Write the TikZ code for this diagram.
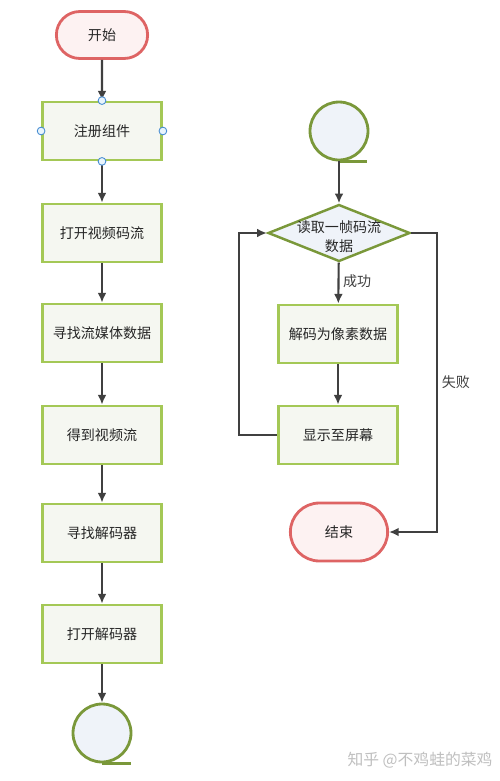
\documentclass[tikz,border=0pt]{standalone}
\usepackage{fontspec}
\setmainfont{Noto Sans CJK SC}
\usetikzlibrary{shapes.geometric,shapes.misc,arrows.meta}
\tikzset{>={Latex[length=5.5pt,width=5pt]}}
\definecolor{termred}{RGB}{222,100,100}
\definecolor{termfill}{RGB}{253,242,242}
\definecolor{boxgreen}{RGB}{164,200,86}
\definecolor{boxfill}{RGB}{245,247,241}
\definecolor{olivegreen}{RGB}{122,152,58}
\definecolor{loopfill}{RGB}{239,243,249}
\definecolor{handleblue}{RGB}{70,140,210}
\definecolor{handlefill}{RGB}{232,244,252}
\colorlet{linegray}{black!75}
\tikzstyle{terminal}=[rounded rectangle,draw=termred,fill=termfill,line width=1.6pt,
  minimum width=2.06cm,minimum height=0.94cm]
\tikzstyle{process}=[rectangle,draw=boxgreen,fill=boxfill,line width=1.6pt,
  minimum width=2.38cm,minimum height=1.16cm]
\tikzstyle{loopnode}=[circle,draw=olivegreen,fill=loopfill,line width=1.6pt,
  minimum size=1.16cm,inner sep=0]
\tikzstyle{decision}=[diamond,draw=olivegreen,fill=loopfill,line width=1.4pt,
  minimum width=2.84cm,minimum height=1.14cm,inner sep=0]
\tikzstyle{flow}=[->,line width=1.2pt,linegray]
\tikzstyle{handle}=[draw=handleblue,fill=handlefill,line width=0.5pt]

\begin{document}
\begin{tikzpicture}[x=0.02cm,y=-0.02cm,font=\fontsize{8pt}{11pt}\selectfont,text=black!85]
  \useasboundingbox (0,0) rectangle (500,781);

  % LEFT COLUMN
  \node[terminal] (start) at (102,35)  {开始};
  \node[process]  (reg)   at (102,131) {注册组件};
  \node[process]  (open)  at (102,233) {打开视频码流};
  \node[process]  (find)  at (102,333) {寻找流媒体数据};
  \node[process]  (get)   at (102,435) {得到视频流};
  \node[process]  (seek)  at (102,533) {寻找解码器};
  \node[process]  (opend) at (102,634) {打开解码器};
  \node[loopnode] (loopa) at (102,733) {};
  \draw[olivegreen,line width=1.6pt] (loopa.south) -- ++(29,0);

  \draw[flow] (start) -- (reg);
  \draw[flow] (reg)   -- (open);
  \draw[flow] (open)  -- (find);
  \draw[flow] (find)  -- (get);
  \draw[flow] (get)   -- (seek);
  \draw[flow] (seek)  -- (opend);
  \draw[flow] (opend) -- (loopa);

  \foreach \a in {north,south,east,west}
    \draw[handle] (reg.\a) circle (2.2pt);

  % RIGHT COLUMN
  \node[loopnode] (loopb)  at (339,131) {};
  \draw[olivegreen,line width=1.6pt] (loopb.south) -- ++(28,0);
  \node[decision,label={[align=center,yshift=-2pt]center:读取一帧码流\\数据}] (read) at (339,233) {};
  \node[process]  (decode) at (338,334) {解码为像素数据};
  \node[process]  (show)   at (338,435) {显示至屏幕};
  \node[terminal,minimum width=2.18cm,minimum height=1.16cm] (end) at (339,532) {结束};

  \draw[flow] (loopb) -- (read);
  \draw[flow] (read) -- node[right,pos=0.45,inner sep=2pt]{成功} (decode);
  \draw[flow] (decode) -- (show);
  \draw[flow] (show.west) -- ++(-38,0) |- (read.west);
  \draw[flow] (read.east) -- ++(26,0) |- node[pos=0.25,right,inner sep=2pt]{失败} (end.east);

  % WATERMARK
  \node[text=black!25,font=\fontsize{9pt}{11pt}\selectfont] (mark) at (420,760) {知乎 @不鸡蛙的菜鸡};
\end{tikzpicture}
\end{document}
